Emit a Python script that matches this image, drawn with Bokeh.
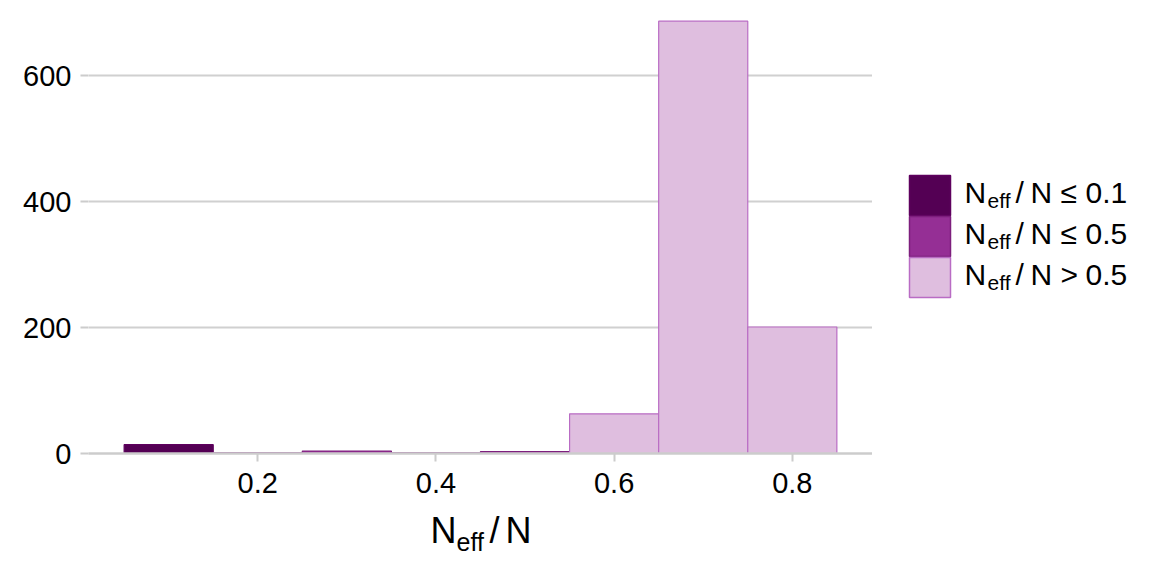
from bokeh.plotting import figure
from bokeh.layouts import column, row
from bokeh.models import FixedTicker, Range1d, ColumnDataSource
from bokeh.core.properties import value
from bokeh.embed import file_html
from bokeh.resources import INLINE

# ---- data ----
bin_left = [0.05, 0.15, 0.25, 0.35, 0.45, 0.55, 0.65, 0.75]
bin_right = [0.15, 0.25, 0.35, 0.45, 0.55, 0.65, 0.75, 0.85]
counts = [14, 1, 4, 1, 3, 63, 687, 201]
rating = ["low", "mid", "mid", "mid", "mid", "high", "high", "high"]
legend_keys = ["low", "mid", "high"]
legend_ops = ["≤", "≤", ">"]
legend_vals = ["0.1", "0.5", "0.5"]
x_ticks = [0.2, 0.4, 0.6, 0.8]
y_ticks = [0, 200, 400, 600]

FONT = "Liberation Sans"
fills = {"low": "#540054", "mid": "#952F95", "high": "#DFBEDF"}
lines = {"low": "#5E005E", "mid": "#7D1F7D", "high": "#B96CC4"}

MAIN_W, MAIN_H = 872, 505
LEG_W = 270
XL_H = 58
LEG_DY = -8  # vertical correction for legend panel


def blank(width, height):
    f = figure(frame_width=width, frame_height=height, output_backend="svg",
               toolbar_location=None, x_axis_type=None, y_axis_type=None,
               x_range=Range1d(0, width), y_range=Range1d(height, 0),
               min_border=0, title=None)
    f.outline_line_color = None
    f.grid.grid_line_color = None
    return f


def txt(f, x, baseline, s, size):
    # place text by its baseline (centre of capitals = baseline - 0.36 em)
    f.text(x=[x], y=[baseline - 0.36 * size], text=[s], text_font=value(FONT),
           text_font_size=value(f"{size}px"), text_color="black",
           text_baseline="middle", text_align="left")


# ---- main histogram ----
src = ColumnDataSource(dict(
    left=bin_left, right=bin_right, top=counts,
    fill=[fills[r] for r in rating], line=[lines[r] for r in rating]))

p = figure(width=MAIN_W, height=MAIN_H, output_backend="svg", toolbar_location=None,
           x_range=Range1d(0.01, 0.89), y_range=Range1d(0, 707.2),
           min_border_left=88, min_border_right=0, min_border_top=8,
           min_border_bottom=52)
p.outline_line_color = None

p.quad(left="left", right="right", top="top", bottom=0, source=src,
       fill_color="fill", line_color="line", line_width=1.2)

p.xgrid.grid_line_color = None
p.ygrid.grid_line_color = "#D0D0D0"
p.ygrid.grid_line_width = 2
p.ygrid.ticker = FixedTicker(ticks=y_ticks)

for ax in (p.xaxis[0], p.yaxis[0]):
    ax.major_tick_line_color = "#CCCCCC"
    ax.major_tick_line_width = 2
    ax.major_tick_out = 8
    ax.major_tick_in = 0
    ax.minor_tick_line_color = None
    ax.major_label_text_font = FONT
    ax.major_label_text_font_size = "29px"
    ax.major_label_text_color = "black"

p.xaxis.ticker = FixedTicker(ticks=x_ticks)
p.xaxis.axis_line_color = "#CCCCCC"
p.xaxis.axis_line_width = 2.5
p.xaxis.major_label_standoff = 11
p.yaxis.ticker = FixedTicker(ticks=y_ticks)
p.yaxis.axis_line_color = None
p.yaxis.major_label_standoff = 9

# ---- legend ----
lg = blank(LEG_W, MAIN_H)
lg.quad(left=[37] * 3, right=[78] * 3,
        top=[175 + LEG_DY + 41 * i for i in range(3)],
        bottom=[215 + LEG_DY + 41 * i for i in range(3)],
        fill_color=[fills[k] for k in legend_keys],
        line_color=[lines[k] for k in legend_keys], line_width=1.5)
for i, (op, v) in enumerate(zip(legend_ops, legend_vals)):
    base = 203 + LEG_DY + 41 * i
    txt(lg, 92, base, "N", 30)
    txt(lg, 115, base + 5, "eff", 21)
    txt(lg, 143, base, "/", 30)
    txt(lg, 158, base, "N", 30)
    txt(lg, 188, base, op, 30)
    txt(lg, 213, base, v, 30)

# ---- x axis title ----
xl = blank(MAIN_W + LEG_W, XL_H)
txt(xl, 430, 38, "N", 36)
txt(xl, 456, 45, "eff", 25)
txt(xl, 489, 38, "/", 36)
txt(xl, 505, 38, "N", 36)

layout = column(row(p, lg, spacing=0), xl, spacing=0)
open("out.html", "w").write(file_html(layout, INLINE))
